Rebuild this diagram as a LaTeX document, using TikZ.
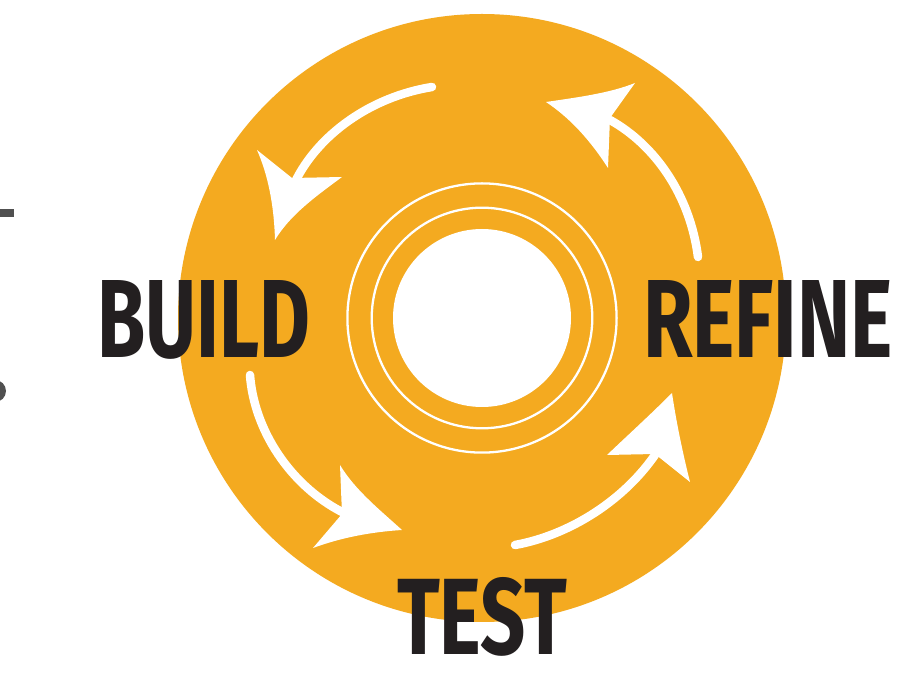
\documentclass[tikz,border=0pt]{standalone}
\usepackage{fontspec}
\newfontfamily\lblfont{Fira Sans}
\usepackage{graphicx}
\definecolor{wheel}{RGB}{244,170,32}
\definecolor{ink}{RGB}{35,31,32}
\definecolor{edgegray}{RGB}{80,80,80}
\tikzset{
  lbl/.style={inner sep=0pt, outer sep=0pt, text=ink, font=\lblfont\bfseries},
  shaft/.style={draw=white, line width=8.5pt, line cap=round},
  headfill/.style={fill=white, draw=none},
  ringline/.style={draw=white, line width=2.3pt}
}
\begin{document}
\begin{tikzpicture}[x=1pt,y=-1pt]
\clip (0,0) rectangle (922,692);
\fill[white] (0,0) rectangle (922,692);
% stray marks at left edge
\fill[edgegray] (0,209) rectangle (14,217);
\fill[edgegray] (-5,391) circle[radius=11];
% wheel
\fill[wheel] (482,318) circle[radius=304];
\draw[ringline] (482,318) circle[radius=134.6];
\draw[ringline] (482,318) circle[radius=110.3];
\fill[white] (482,318) circle[radius=89];
% arrow top-left
\draw[shaft] (432,87) .. controls (370,97) and (318,135) .. (295,182);
\fill[headfill] (257,150) -- (292,178) -- (342,177) .. controls (315,197) and (290,215) .. (275,240) .. controls (274,205) and (268,175) .. (257,150) -- cycle;
% arrow top-right
\draw[shaft] (698,257) .. controls (690,195) and (655,145) .. (610,120);
\fill[headfill] (635,83) -- (610,118) -- (608,168) .. controls (590,140) and (570,118) .. (546,102) .. controls (580,97) and (610,93) .. (635,83) -- cycle;
% arrow bottom-left
\draw[shaft] (250,375) .. controls (254,430) and (290,485) .. (342,512);
\fill[headfill] (340,465) -- (342,514) -- (313,548) .. controls (340,538) and (370,532) .. (402,530) .. controls (380,510) and (355,490) .. (340,465) -- cycle;
% arrow bottom-right
\draw[shaft] (515,545) .. controls (570,535) and (625,500) .. (657,452);
\fill[headfill] (607,455) -- (655,454) -- (690,482) .. controls (682,450) and (676,420) .. (672,393) .. controls (650,415) and (628,435) .. (607,455) -- cycle;
% labels
\node[lbl, anchor=north west] (build) at (97,280) {\resizebox{213pt}{77pt}{BUILD}};
\node[lbl, anchor=north west] (refine) at (643,280) {\resizebox{250pt}{77pt}{REFINE}};
\node[lbl, anchor=north west] (test) at (397,577) {\resizebox{170pt}{77pt}{TEST}};
\end{tikzpicture}
\end{document}
